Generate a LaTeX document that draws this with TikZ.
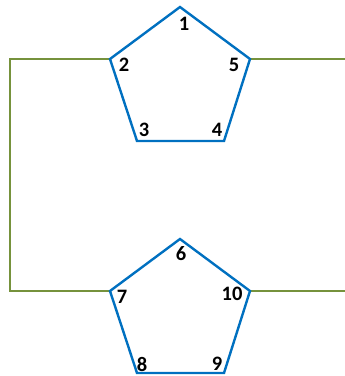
\documentclass[tikz,border=0pt]{standalone}
\usepackage{fontspec}
\setmainfont{Carlito}
\definecolor{ringblue}{RGB}{0, 112, 192}
\definecolor{wiregreen}{RGB}{118, 146, 60}

\begin{document}
\begin{tikzpicture}[x=1pt, y=-1pt,
    ring/.style={draw=ringblue, line width=2.4pt, line join=miter},
    wire/.style={draw=wiregreen, line width=2.4pt},
    num/.style={font=\fontsize{20.5}{20.5}\selectfont\bfseries, inner sep=0pt}]
    \useasboundingbox (0, 0) rectangle (345, 376);
    % top pentagon
    \coordinate (v1) at (180, 7);
    \coordinate (v2) at (110, 59);
    \coordinate (v3) at (137, 141);
    \coordinate (v4) at (224, 141);
    \coordinate (v5) at (250, 59);
    % bottom pentagon
    \coordinate (v6) at (180, 239);
    \coordinate (v7) at (110, 291);
    \coordinate (v8) at (137, 373);
    \coordinate (v9) at (224, 373);
    \coordinate (v10) at (250, 291);
    % wire ends
    \coordinate (c1) at (10, 59);
    \coordinate (c2) at (10, 291);
    \coordinate (e1) at (345, 59);
    \coordinate (e2) at (345, 291);

    \draw[wire] (v2) -- (c1) -- (c2) -- (v7);
    \draw[wire] (v5) -- (e1);
    \draw[wire] (v10) -- (e2);

    \draw[ring] (v1) -- (v2) -- (v3) -- (v4) -- (v5) -- cycle;
    \draw[ring] (v6) -- (v7) -- (v8) -- (v9) -- (v10) -- cycle;

    \node[num] (n1) at (184, 24) {1};
    \node[num] (n2) at (124, 65) {2};
    \node[num] (n3) at (144, 130) {3};
    \node[num] (n4) at (217, 130) {4};
    \node[num] (n5) at (234, 65) {5};
    \node[num] (n6) at (181, 254) {6};
    \node[num] (n7) at (122, 297) {7};
    \node[num] (n8) at (142, 364) {8};
    \node[num] (n9) at (217, 364) {9};
    \node[num] (n10) at (232, 294) {10};
\end{tikzpicture}
\end{document}
